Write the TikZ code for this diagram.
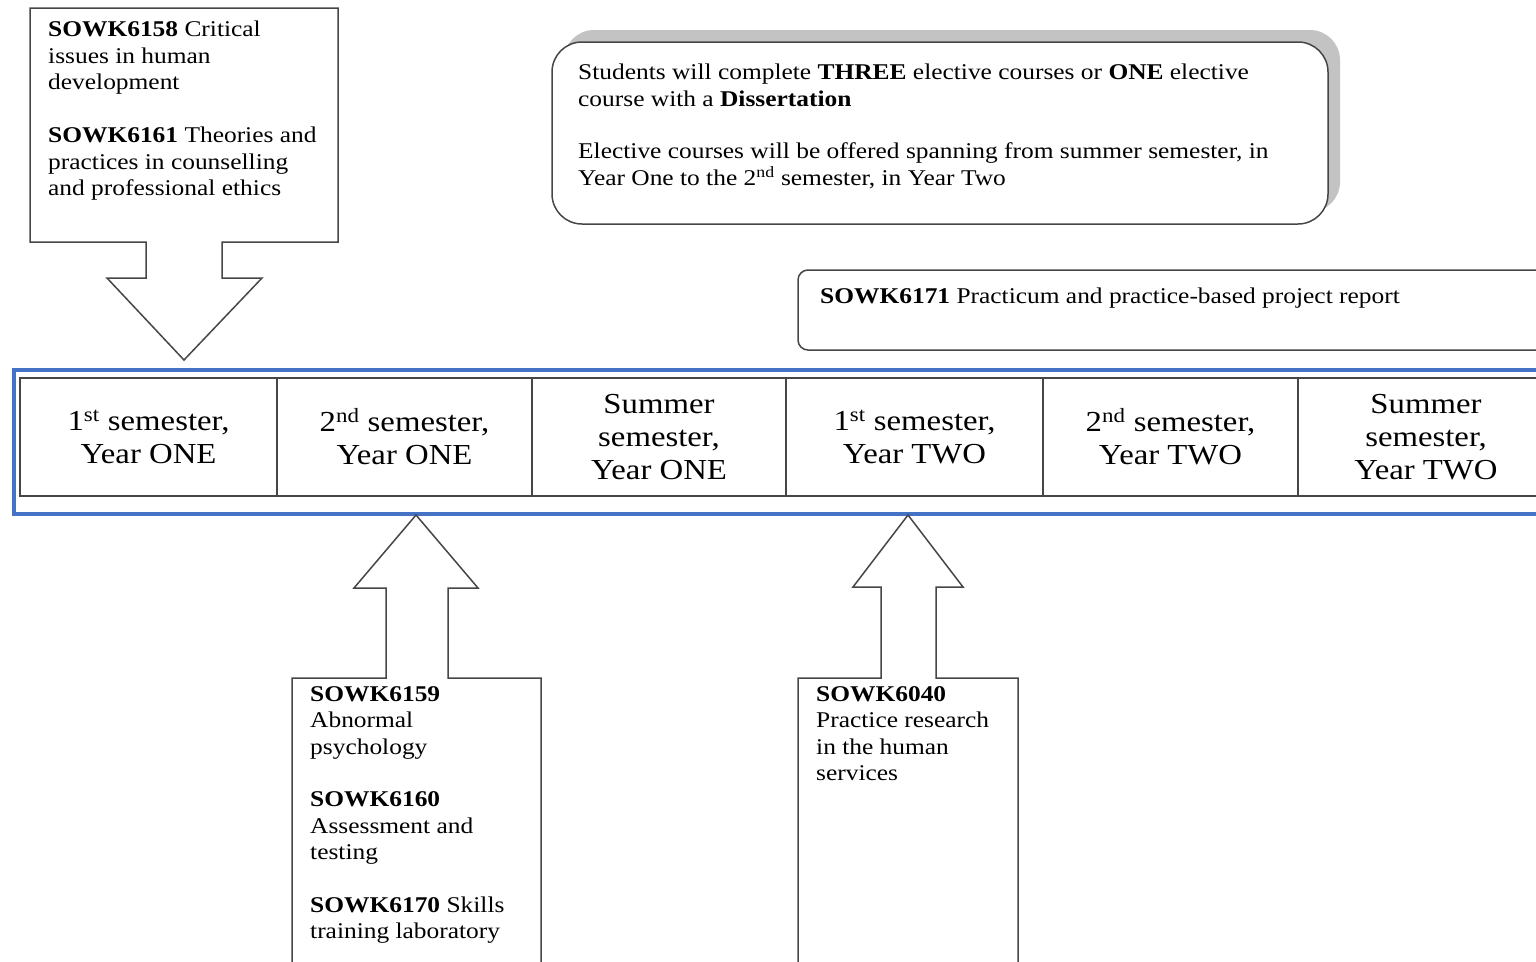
\documentclass[tikz,border=0pt]{standalone}
\usepackage{fontspec}
\setmainfont{Liberation Serif}[FakeStretch=1.13]
\definecolor{frameblue}{RGB}{68,114,196}
\definecolor{edge}{RGB}{70,70,70}
\definecolor{shadowgray}{RGB}{195,195,195}
\tikzset{
  outline/.style={draw=edge, line width=1.5pt, fill=white},
  body/.style={font=\fontsize{22.5}{26.5}\selectfont, align=left, anchor=north west, inner sep=0pt},
  cell/.style={font=\fontsize{29}{33}\selectfont, align=center, inner sep=0pt},
}
\begin{document}
\begin{tikzpicture}[x=1pt,y=-1pt]
\useasboundingbox (0,0) rectangle (1536,961);
\begin{scope}
\clip (0,0) rectangle (1536,961);
% top-left down arrow callout
\draw[outline] (30,8) -- (338,8) -- (338,242) -- (222,242) -- (222,278) -- (262,278) -- (184,360) -- (107,278) -- (146,278) -- (146,242) -- (30,242) -- cycle;
\node[body] (tl) at (48,21) {\textbf{SOWK6158} Critical\\issues in human\\development\\[26.5pt]\textbf{SOWK6161} Theories and\\practices in counselling\\and professional ethics};
% elective rounded box with shadow
\fill[shadowgray, rounded corners=30pt] (564,30) rectangle (1340,212);
\draw[outline, rounded corners=30pt] (552,42) rectangle (1328,224);
\node[body] (el) at (578,64) {Students will complete \textbf{THREE} elective courses or \textbf{ONE} elective\\course with a \textbf{Dissertation}\\[26pt]Elective courses will be offered spanning from summer semester, in\\Year One to the 2\textsuperscript{nd} semester, in Year Two};
% practicum box
\draw[outline, rounded corners=10pt] (798,270) rectangle (1560,350);
\node[body] (pr) at (820,288) {\textbf{SOWK6171} Practicum and practice-based project report};
% semester strip
\draw[frameblue, line width=4.5pt] (14,370) rectangle (1560,514);
\draw[edge, line width=1.5pt] (20,378) rectangle (1560,496);
\foreach \x in {277,532,786,1043,1298} \draw[edge, line width=1.5pt] (\x,378) -- (\x,496);
\node[cell] (c1) at (148.5,437) {1\textsuperscript{st} semester,\\Year ONE};
\node[cell] (c2) at (404.5,437) {2\textsuperscript{nd} semester,\\Year ONE};
\node[cell] (c3) at (659,437) {Summer\\semester,\\Year ONE};
\node[cell] (c4) at (914.5,437) {1\textsuperscript{st} semester,\\Year TWO};
\node[cell] (c5) at (1170.5,437) {2\textsuperscript{nd} semester,\\Year TWO};
\node[cell] (c6) at (1426,437) {Summer\\semester,\\Year TWO};
% bottom up arrow callouts
\draw[outline] (292,990) -- (292,678) -- (386,678) -- (386,588) -- (354,588) -- (416,515) -- (478,588) -- (448,588) -- (448,678) -- (541,678) -- (541,990);
\node[body] (b1) at (310,686) {\textbf{SOWK6159}\\Abnormal\\psychology\\[26pt]\textbf{SOWK6160}\\Assessment and\\testing\\[26pt]\textbf{SOWK6170} Skills\\training laboratory};
\draw[outline] (798,990) -- (798,678) -- (881,678) -- (881,587) -- (853,587) -- (908,515) -- (963,587) -- (936,587) -- (936,678) -- (1018,678) -- (1018,990);
\node[body] (b2) at (816,686) {\textbf{SOWK6040}\\Practice research\\in the human\\services};
\end{scope}
\end{tikzpicture}
\end{document}
